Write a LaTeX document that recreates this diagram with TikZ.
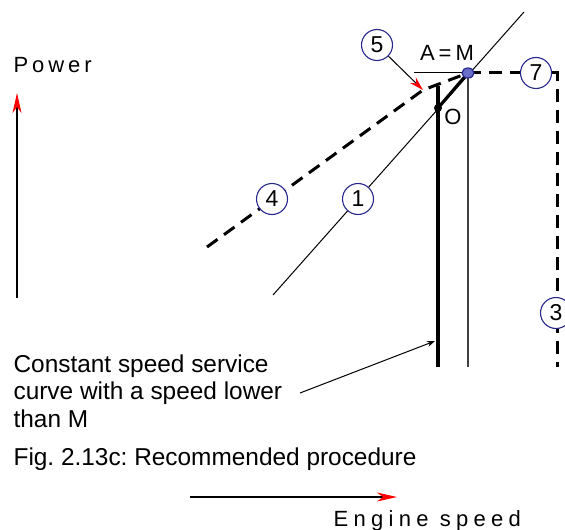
\documentclass[tikz,border=0pt]{standalone}
\usepackage{fontspec}
\setmainfont{Liberation Sans}
\newfontfamily\plotfont[LetterSpace=18]{Liberation Sans}
\usetikzlibrary{arrows.meta,positioning}
\definecolor{markblue}{RGB}{40,40,140}
\definecolor{markfill}{RGB}{105,110,200}
\frenchspacing

\begin{document}
\begin{tikzpicture}[x=0.5pt,y=-0.5pt,>={Stealth[length=4pt,width=3pt]},semithick]
  \tikzstyle{num}=[circle,draw=markblue,line width=0.55pt,fill=white,minimum size=15.5pt,inner sep=0pt,font=\plotfont\fontsize{11.5}{13}\selectfont]
  \tikzstyle{plot}=[font=\plotfont\fontsize{11}{13}\selectfont,inner sep=0pt]
  \tikzstyle{thin}=[line width=0.5pt]
  \tikzstyle{thick curve}=[line width=1.6pt]
  \tikzstyle{dash curve}=[line width=1.5pt,dash pattern=on 6.5pt off 4pt]
  \tikzstyle{axis}=[line width=0.6pt,-{Stealth[red,length=10pt,width=4.5pt,inset=3pt]}]
\useasboundingbox (0,0) rectangle (565,529);
% points of the diagram
\coordinate (A) at (468,73);
\coordinate (O) at (438,108);
\coordinate (K) at (423,90);
\coordinate (s4) at (207,247);
\coordinate (t1) at (524,12);
\coordinate (b1) at (273,295);
\coordinate (h0) at (414,73);
\coordinate (bA) at (468,367);
\coordinate (tO) at (438,86);
\coordinate (bO) at (438,367);
\coordinate (c7) at (557,73);
\coordinate (b3) at (557,367);
\coordinate (tip) at (435,341);
\coordinate (lead) at (300,393);
% lines
\draw[thin] (b1) -- (t1);
\draw[thin] (h0) -- (A);
\draw[line width=0.6pt,black!75] (A) -- (bA);
\draw[dash curve] (s4) -- (K) -- (A);
\draw[dash curve] (A) -- (c7) -- (b3);
\draw[thick curve] (tO) -- (bO);
\draw[thick curve] (O) -- (A);
\fill (O) circle (4);
\draw[markblue,fill=markfill,line width=0.6pt] (A) ellipse (6 and 5);
% numbered curves
\node[num] (n1) at (358,199) {1};
\node[num] (n4) at (272,199) {4};
\node[num] (n5) at (377,45) {5};
\node[num] (n7) at (536,73) {7};
\node[num] (n3) at (556,313) {3};
\draw[thin,-{Stealth[red,length=7pt,width=4pt]}] (n5) -- (K);
\node[plot] (am) at (447,53) {A=M};
\node[plot] (o) at (453,117) {O};
% axes
\node[plot,anchor=base west] (power) at (13,73) {Power};
\coordinate (p0) at (17,298);
\coordinate (p1) at (17,93);
\draw[axis] (p0) -- (p1);
\coordinate (e0) at (190,497);
\coordinate (e1) at (397,497);
\draw[axis] (e0) -- (e1);
\node[plot,anchor=base west,font=\plotfont\addfontfeature{LetterSpace=24}\fontsize{11}{13}\selectfont] (engine) at (333,526) {Engine speed};
% texts
\node[anchor=north west,align=left,inner sep=0pt,font=\fontsize{12.2}{13.75}\selectfont] (note) at (13,354)
  {Constant speed service\\curve with a speed lower\\than M};
\draw[thin,->] (lead) -- (tip);
\node[anchor=base west,inner sep=0pt,font=\fontsize{12.2}{14}\selectfont] (caption) at (13,465)
  {Fig. 2.13c: Recommended procedure};
\end{tikzpicture}
\end{document}
